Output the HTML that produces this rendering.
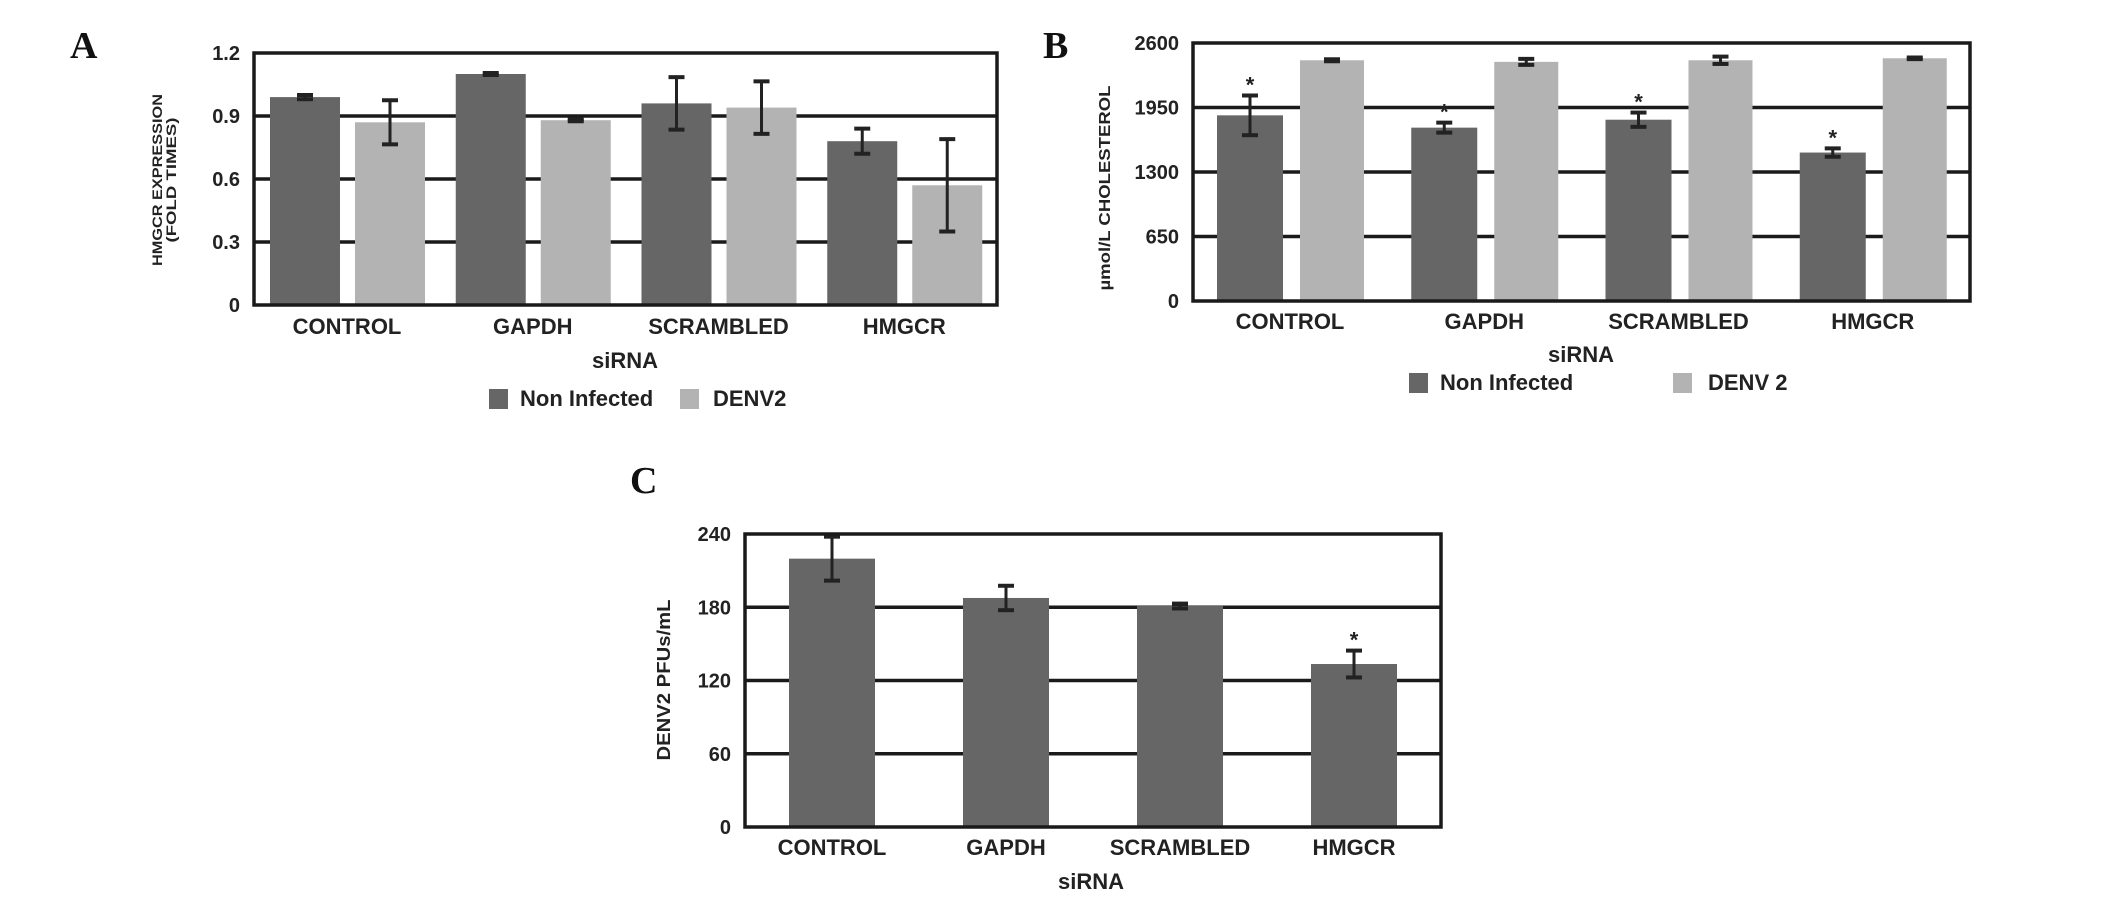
<!DOCTYPE html>
<html><head><meta charset="utf-8"><style>
html,body{margin:0;padding:0;background:#fff;}
svg{display:block;}
.tk{font-family:"Liberation Sans Narrow","Liberation Sans",sans-serif;font-weight:bold;font-size:20px;fill:#222;}
.cat{font-family:"Liberation Sans Narrow","Liberation Sans",sans-serif;font-weight:bold;font-size:22px;fill:#222;}
.ttl{font-family:"Liberation Sans",sans-serif;font-weight:bold;fill:#222;}
.pl{font-family:"Liberation Serif",serif;font-weight:bold;font-size:38px;fill:#111;}
</style></head><body>
<svg id="fig" width="2126" height="900" viewBox="0 0 2126 900" xmlns="http://www.w3.org/2000/svg">
<text class="pl" x="70" y="58">A</text>
<text class="pl" x="1043" y="58">B</text>
<text class="pl" x="630" y="493">C</text>
</svg>
<script>
const categories = ["CONTROL","GAPDH","SCRAMBLED","HMGCR"];
const aTicks = ["0","0.3","0.6","0.9","1.2"];
const aNonInfected = [0.99,1.10,0.96,0.78];
const aNonInfectedErr = [0.01,0.005,0.125,0.06];
const aDenv = [0.87,0.88,0.94,0.57];
const aDenvErr = [0.105,0.005,0.125,0.22];
const bTicks = ["0","650","1300","1950","2600"];
const bNonInfected = [1871,1747,1827,1496];
const bNonInfectedErr = [200,50,72,42];
const bDenv = [2426,2410,2426,2446];
const bDenvErr = [10,30,37,8];
const bStars = [true,true,true,true];
const cTicks = ["0","60","120","180","240"];
const cValues = [219.8,187.6,181,133.5];
const cErr = [18,10,2,11];
const cStars = [false,false,false,true];

const svg = document.getElementById('fig');
const NS = 'http://www.w3.org/2000/svg';
function mk(tag, attrs, parent){const e=document.createElementNS(NS,tag);for(const k in attrs)e.setAttribute(k,attrs[k]);(parent||svg).appendChild(e);return e;}

function chart(cfg){
  const g = mk('g',{});
  
  
  const {x0,x1,y0,y1,max,ticks} = cfg;
  const yS = v => y1 - (v/max)*(y1-y0);
  const gw = (x1-x0)/categories.length;
  // grid
  ticks.forEach((t,i)=>{
    const v = max*i/(ticks.length-1);
    const y = yS(v);
    if(i>0 && i<ticks.length-1){
      const l = mk('line',{x1:x0,x2:x1,y1:y,y2:y,stroke:'#1a1a1a','stroke-width':3.5},g);
      
      
    }
    const tx = mk('text',{x:x0-14,y:y+7,'text-anchor':'end',class:'tk'},g);
    tx.textContent = t;
    
    
  });
  // bars
  cfg.series.forEach((s,si)=>{
    categories.forEach((c,ci)=>{
      const bx = x0 + gw*ci + s.off;
      const v = s.vals[ci];
      const r = mk('rect',{x:bx,y:yS(v),width:s.w,height:y1-yS(v),fill:s.color},g);
      
      
      const cx = bx + s.w/2, e = s.err[ci];
      const eg = mk('g',{stroke:'#222','stroke-width':3},g);
      
      
      mk('line',{x1:cx,x2:cx,y1:yS(v+e),y2:yS(v-e)},eg);
      mk('line',{x1:cx-8,x2:cx+8,y1:yS(v+e),y2:yS(v+e),'stroke-width':4},eg);
      mk('line',{x1:cx-8,x2:cx+8,y1:yS(v-e),y2:yS(v-e),'stroke-width':4},eg);
      if(s.stars && s.stars[ci]){
        const st = mk('text',{x:cx,y:yS(v+e)-3,'text-anchor':'middle',class:'cat'},g);
        st.textContent='*';
        
        
      }
    });
  });
  // frame
  const fr = mk('rect',{x:x0,y:y0,width:x1-x0,height:y1-y0,fill:'none',stroke:'#1a1a1a','stroke-width':3.5},g);
  
  
  categories.forEach((c,ci)=>{
    const t = mk('text',{x:x0+gw*ci+cfg.catOff,y:cfg.catY,'text-anchor':'middle',class:'cat'},g);
    t.textContent=c;
    
    
  });
  const xt = mk('text',{x:cfg.xtX,y:cfg.xtY,'text-anchor':'middle',class:'cat'},g);
  xt.textContent='siRNA';
  
  
  cfg.ytitle.forEach((ln,i)=>{
    const t = mk('text',{x:0,y:0,'text-anchor':'middle',class:'ttl','font-size':cfg.ytSize,textLength:ln[1],lengthAdjust:'spacingAndGlyphs',transform:`translate(${cfg.ytX+i*cfg.ytSize},${cfg.ytY}) rotate(-90)`},g);
    t.textContent=ln[0];
    
    
  });
  (cfg.legend||[]).forEach(L=>{
    const lg = mk('g',{},g);
    
    
    mk('rect',{x:L.x,y:L.y,width:19,height:20,fill:L.color},lg);
    const t = mk('text',{x:L.tx,y:L.y+17,class:'cat'},lg);
    t.textContent=L.label;
  });
}

chart({name:'chart-a-hmgcr-expression',x0:254,x1:997,y0:53,y1:305,max:1.2,ticks:aTicks,
  series:[{key:'non-infected',vals:aNonInfected,err:aNonInfectedErr,off:16,w:70,color:'#666'},
          {key:'denv2',vals:aDenv,err:aDenvErr,off:101,w:70,color:'#b3b3b3'}],
  catOff:93,catY:334,xtX:625,xtY:368,
  ytitle:[['HMGCR EXPRESSION',172],['(FOLD TIMES)',125]],ytSize:14,ytX:162,ytY:180,
  legend:[{x:489,y:389,tx:520,color:'#666',label:'Non Infected'},{x:680,y:389,tx:713,color:'#b3b3b3',label:'DENV2'}]});

chart({name:'chart-b-cholesterol',x0:1193,x1:1970,y0:43,y1:301,max:2600,ticks:bTicks,
  series:[{key:'non-infected',vals:bNonInfected,err:bNonInfectedErr,off:24,w:66,color:'#666',stars:bStars},
          {key:'denv2',vals:bDenv,err:bDenvErr,off:107,w:64,color:'#b3b3b3'}],
  catOff:97,catY:329,xtX:1581,xtY:362,
  ytitle:[['µmol/L CHOLESTEROL',205]],ytSize:16,ytX:1110,ytY:188,
  legend:[{x:1409,y:373,tx:1440,color:'#666',label:'Non Infected'},{x:1673,y:373,tx:1708,color:'#b3b3b3',label:'DENV 2'}]});

chart({name:'chart-c-denv2-titer',x0:745,x1:1441,y0:534,y1:827,max:240,ticks:cTicks,
  series:[{key:'pfu',vals:cValues,err:cErr,off:44,w:86,color:'#666',stars:cStars}],
  catOff:87,catY:855,xtX:1091,xtY:889,
  ytitle:[['DENV2 PFUs/mL',161]],ytSize:18,ytX:670,ytY:680});
</script>
</body></html>
